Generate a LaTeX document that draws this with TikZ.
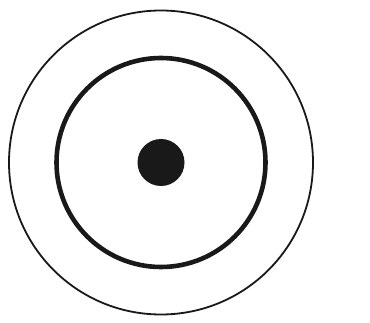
\documentclass[tikz,border=0pt]{standalone}
\begin{document}
\begin{tikzpicture}[x=1pt,y=-1pt,
  ring/.style={draw=black!90,line width=#1},
  dotfill/.style={fill=black!90,draw=none}]
\useasboundingbox (0,0) rectangle (370,323);
\fill[white] (0,0) rectangle (370,323);
\coordinate (c) at (161,162.5);
\draw[ring=1.8pt] (c) circle[radius=152];
\draw[ring=4.6pt] (c) circle[radius=104.5];
\fill[dotfill] (c) circle[radius=23.5];
\end{tikzpicture}
\end{document}
